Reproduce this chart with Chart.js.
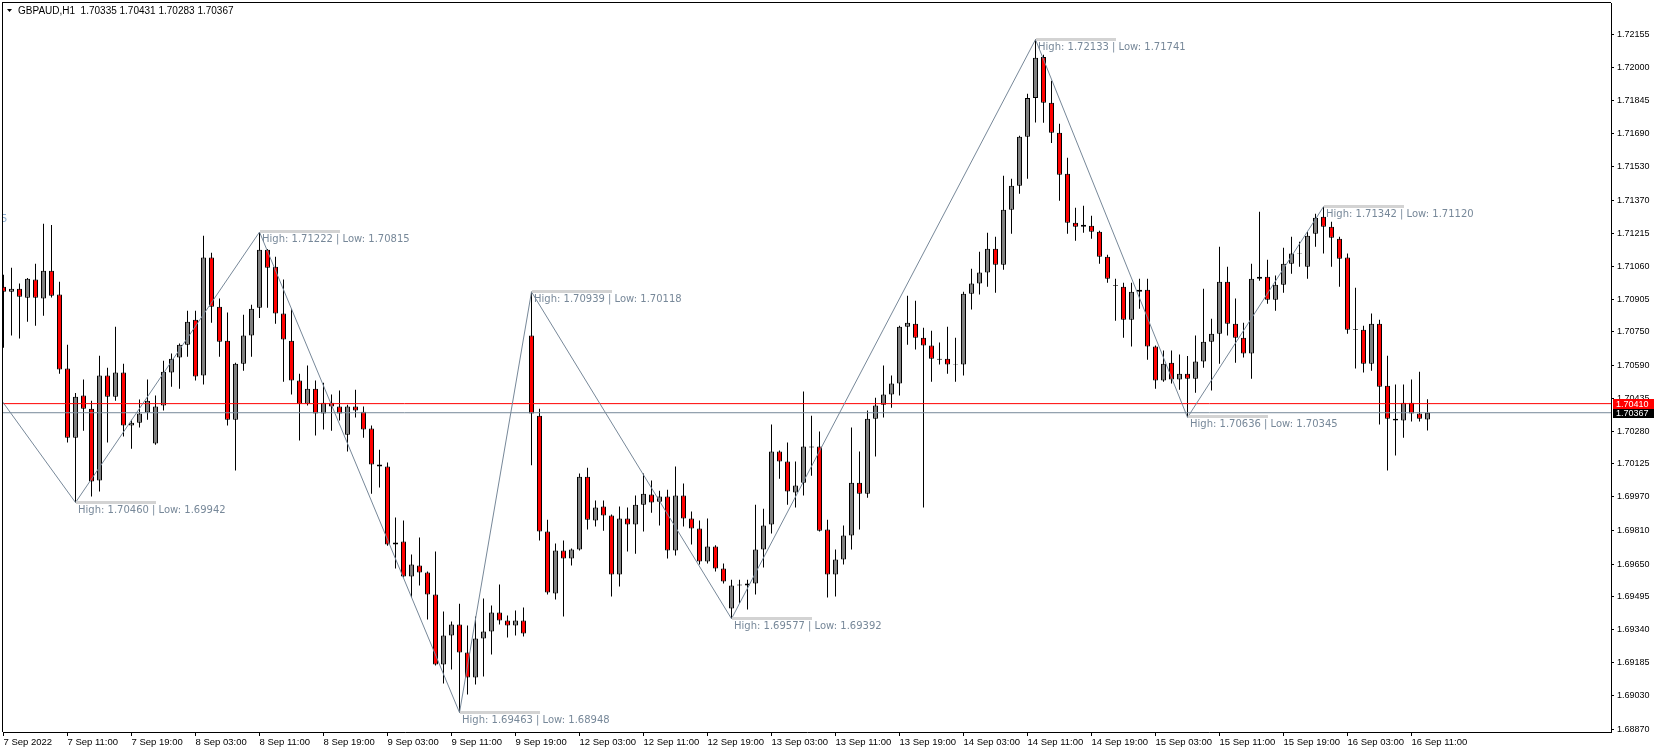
<!DOCTYPE html>
<html lang="en">
<head>
<meta charset="UTF-8">
<title>GBPAUD,H1</title>
<script src="https://cdn.jsdelivr.net/npm/chart.js@4"></script>
<style>
html,body{margin:0;padding:0;background:#fff;overflow:hidden}
#wrap{width:1657px;height:753px}
</style>
</head>
<body>
<div id="wrap"><canvas id="chart" width="1657" height="753"></canvas></div>
<script>
const headerText = 'GBPAUD,H1  1.70335 1.70431 1.70283 1.70367';

const opens = [
1.70963,1.70940,1.70954,1.70911,1.70997,1.70907,1.71039,1.70926,1.70576,1.70249,
1.70448,1.70386,1.70046,1.70543,1.70443,1.70557,1.70306,1.70320,1.70368,1.70221,
1.70401,1.70557,1.70628,1.70689,1.70807,1.70543,1.71101,1.70869,1.70708,1.70334,
1.70599,1.70732,1.70864,1.71138,1.71058,1.70836,1.70708,1.70519,1.70410,1.70481,
1.70363,1.70414,1.70396,1.70263,1.70396,1.70372,1.70292,1.70122,1.70112,1.69743,
1.69758,1.69592,1.69644,1.69611,1.69507,1.69176,1.69313,1.69365,1.69232,1.69114,
1.69299,1.69332,1.69421,1.69384,1.69360,1.69384,1.70732,1.70353,1.69805,1.69511,
1.69715,1.69677,1.69720,1.70064,1.69857,1.69923,1.69880,1.69601,1.69866,1.69838,
1.69932,1.69980,1.69946,1.69970,1.69715,1.69975,1.69866,1.69819,1.69663,1.69734,
1.69630,1.69440,1.69549,1.69549,1.69559,1.69720,1.69838,1.70183,1.70136,1.69989,
1.70036,1.70202,1.70207,1.69814,1.69601,1.69672,1.69786,1.70036,1.69984,1.70339,
1.70405,1.70453,1.70505,1.70774,1.70788,1.70722,1.70685,1.70623,1.70623,1.70595,
1.70595,1.70930,1.70978,1.71030,1.71143,1.71067,1.71328,1.71441,1.71673,1.71857,
1.72051,1.71834,1.71692,1.71498,1.71266,1.71247,1.71252,1.71224,1.71105,1.70968,
1.70963,1.70807,1.70940,1.70949,1.70680,1.70519,1.70604,1.70524,1.70552,1.70528,
1.70609,1.70703,1.70741,1.70987,1.70788,1.70722,1.70647,1.71001,1.71011,1.70902,
1.70973,1.71072,1.71120,1.71058,1.71214,1.71294,1.71247,1.71190,1.71101,1.70760,
1.70760,1.70599,1.70788,1.70495,1.70339,1.70330,1.70414,1.70363,1.70335
];
const highs = [
1.71020,1.71053,1.70978,1.71005,1.71072,1.71261,1.71255,1.70987,1.70689,1.70460,
1.70524,1.70424,1.70637,1.70580,1.70774,1.70599,1.70334,1.70429,1.70524,1.70448,
1.70613,1.70647,1.70694,1.70850,1.70850,1.71205,1.71124,1.70907,1.70841,1.70604,
1.70831,1.70878,1.71222,1.71142,1.71105,1.70997,1.70859,1.70552,1.70590,1.70519,
1.70509,1.70453,1.70472,1.70405,1.70476,1.70396,1.70306,1.70192,1.70131,1.69871,
1.69857,1.69696,1.69776,1.69616,1.69710,1.69426,1.69379,1.69463,1.69360,1.69403,
1.69488,1.69455,1.69554,1.69407,1.69431,1.69445,1.70939,1.70386,1.69861,1.69748,
1.69762,1.69725,1.70079,1.70107,1.69951,1.69951,1.69885,1.69923,1.69918,1.69975,
1.70079,1.70046,1.69998,1.70003,1.70112,1.70032,1.69899,1.69857,1.69866,1.69740,
1.69654,1.69577,1.69577,1.69577,1.69932,1.69913,1.70311,1.70188,1.70226,1.70136,
1.70467,1.70353,1.70278,1.69861,1.69720,1.69833,1.70297,1.70183,1.70377,1.70438,
1.70590,1.70543,1.70779,1.70921,1.70897,1.70769,1.70755,1.70699,1.70774,1.70722,
1.70940,1.71048,1.71129,1.71219,1.71200,1.71489,1.71474,1.71678,1.71876,1.72133,
1.72061,1.71938,1.71734,1.71574,1.71337,1.71347,1.71299,1.71228,1.71115,1.71001,
1.70982,1.70982,1.71001,1.71001,1.70685,1.70661,1.70661,1.70642,1.70636,1.70732,
1.70954,1.70812,1.71152,1.71058,1.70907,1.70793,1.71072,1.71318,1.71091,1.71016,
1.71148,1.71200,1.71176,1.71224,1.71309,1.71342,1.71271,1.71200,1.71120,1.70959,
1.70779,1.70836,1.70807,1.70637,1.70500,1.70500,1.70524,1.70561,1.70431
];
const lows = [
1.70675,1.70732,1.70718,1.70798,1.70779,1.70826,1.70912,1.70552,1.70226,1.69942,
1.70282,1.69970,1.69994,1.70226,1.70424,1.70254,1.70197,1.70297,1.70334,1.70216,
1.70377,1.70490,1.70481,1.70632,1.70519,1.70500,1.70793,1.70632,1.70306,1.70093,
1.70566,1.70632,1.70815,1.70864,1.70788,1.70514,1.70453,1.70235,1.70401,1.70259,
1.70287,1.70282,1.70330,1.70183,1.70344,1.70249,1.69984,1.70013,1.69738,1.69630,
1.69587,1.69492,1.69549,1.69388,1.69171,1.69086,1.69152,1.68948,1.69034,1.69081,
1.69119,1.69223,1.69365,1.69303,1.69313,1.69308,1.70118,1.69762,1.69507,1.69483,
1.69403,1.69644,1.69715,1.69814,1.69828,1.69809,1.69497,1.69544,1.69710,1.69700,
1.69805,1.69894,1.69833,1.69677,1.69691,1.69828,1.69743,1.69649,1.69654,1.69616,
1.69559,1.69392,1.69464,1.69436,1.69507,1.69635,1.69795,1.70055,1.69932,1.69918,
1.69975,1.70069,1.69805,1.69492,1.69497,1.69649,1.69720,1.69814,1.69965,1.70160,
1.70344,1.70391,1.70448,1.70689,1.70666,1.69918,1.70514,1.70595,1.70552,1.70514,
1.70543,1.70855,1.70926,1.70963,1.70935,1.71044,1.71214,1.71403,1.71474,1.71741,
1.71739,1.71644,1.71370,1.71214,1.71181,1.71219,1.71190,1.71072,1.70982,1.70802,
1.70722,1.70680,1.70859,1.70618,1.70481,1.70514,1.70505,1.70476,1.70345,1.70462,
1.70580,1.70472,1.70599,1.70732,1.70604,1.70628,1.70528,1.70992,1.70883,1.70850,
1.70935,1.71025,1.71058,1.71001,1.71152,1.71120,1.71058,1.70963,1.70741,1.70576,
1.70557,1.70566,1.70311,1.70093,1.70164,1.70249,1.70325,1.70325,1.70283
];
const closes = [
1.70940,1.70954,1.70916,1.71001,1.70911,1.71039,1.70921,1.70571,1.70249,1.70443,
1.70386,1.70041,1.70543,1.70443,1.70557,1.70306,1.70320,1.70363,1.70424,1.70396,
1.70561,1.70623,1.70689,1.70798,1.70538,1.71101,1.70869,1.70703,1.70334,1.70599,
1.70732,1.70859,1.71138,1.71053,1.70836,1.70713,1.70519,1.70410,1.70481,1.70363,
1.70414,1.70396,1.70363,1.70396,1.70377,1.70287,1.70122,1.70112,1.69743,1.69753,
1.69592,1.69649,1.69611,1.69507,1.69176,1.69313,1.69365,1.69232,1.69114,1.69299,
1.69332,1.69421,1.69384,1.69360,1.69384,1.69322,1.70363,1.69805,1.69516,1.69715,
1.69677,1.69720,1.70064,1.69861,1.69918,1.69880,1.69601,1.69866,1.69838,1.69932,
1.69984,1.69942,1.69970,1.69715,1.69975,1.69866,1.69819,1.69663,1.69734,1.69630,
1.69568,1.69549,1.69554,1.69559,1.69720,1.69833,1.70183,1.70136,1.69994,1.70022,
1.70207,1.70207,1.69809,1.69601,1.69672,1.69786,1.70036,1.69984,1.70339,1.70401,
1.70453,1.70505,1.70774,1.70793,1.70722,1.70685,1.70623,1.70618,1.70595,1.70598,
1.70930,1.70978,1.71030,1.71143,1.71067,1.71328,1.71441,1.71673,1.71857,1.72047,
1.71834,1.71692,1.71493,1.71266,1.71247,1.71257,1.71224,1.71105,1.71001,1.70971,
1.70807,1.70940,1.70949,1.70680,1.70519,1.70599,1.70524,1.70552,1.70528,1.70609,
1.70703,1.70741,1.70987,1.70788,1.70722,1.70647,1.71001,1.71011,1.70902,1.70973,
1.71072,1.71120,1.71123,1.71205,1.71290,1.71247,1.71195,1.71096,1.70760,1.70763,
1.70599,1.70788,1.70490,1.70339,1.70330,1.70414,1.70363,1.70339,1.70367
];

const timeLabels = ['7 Sep 2022','7 Sep 11:00','7 Sep 19:00','8 Sep 03:00','8 Sep 11:00','8 Sep 19:00',
  '9 Sep 03:00','9 Sep 11:00','9 Sep 19:00','12 Sep 03:00','12 Sep 11:00','12 Sep 19:00',
  '13 Sep 03:00','13 Sep 11:00','13 Sep 19:00','14 Sep 03:00','14 Sep 11:00','14 Sep 19:00',
  '15 Sep 03:00','15 Sep 11:00','15 Sep 19:00','16 Sep 03:00','16 Sep 11:00'];
const priceTicks = [1.72155,1.72000,1.71845,1.71690,1.71530,1.71370,1.71215,1.71060,1.70905,1.70750,
  1.70590,1.70435,1.70280,1.70125,1.69970,1.69810,1.69650,1.69495,1.69340,1.69185,1.69030,1.68870];

// zigzag pivots (first point is the off-screen leg coming in from the left)
const zigzagBars = [-1, 9, 32, 57, 66, 91, 129, 148, 165];
const zigzagPrices = [1.70465, 1.69942, 1.71222, 1.68948, 1.70939, 1.69392, 1.72133, 1.70345, 1.71342];
const pivotHighs = [null, 1.70460, 1.71222, 1.69463, 1.70939, 1.69577, 1.72133, 1.70636, 1.71342];
const pivotLows = [null, 1.69942, 1.70815, 1.68948, 1.70118, 1.69392, 1.71741, 1.70345, 1.71120];

const askPrice = 1.70410;
const bidPrice = 1.70367;

const bodies = opens.map((o, i) => ({x: i, y: [o, closes[i]]}));
const wicks = lows.map((l, i) => ({x: i, y: [l, highs[i]]}));
const bodyColors = opens.map((o, i) => closes[i] >= o ? '#808080' : '#ff0000');
const zigzag = zigzagBars.map((b, k) => ({x: b, y: zigzagPrices[k]}));

const overlay = {
  id: 'overlay',
  beforeDraw(chart) {
    const ctx = chart.ctx;
    ctx.save();
    ctx.fillStyle = '#fff';
    ctx.fillRect(0, 0, chart.width, chart.height);
    ctx.restore();
  },
  afterDatasetsDraw(chart) {
    const {ctx, chartArea: a, scales: {x, y}} = chart;
    ctx.save();
    ctx.beginPath();
    ctx.rect(a.left, a.top, a.right - a.left, a.bottom - a.top);
    ctx.clip();
    ctx.font = '10px "DejaVu Sans"';
    ctx.textBaseline = 'top';
    zigzagBars.forEach((b, k) => {
      if (pivotHighs[k] == null) return;
      const px = Math.round(x.getPixelForValue(b));
      const py = Math.round(y.getPixelForValue(zigzagPrices[k]));
      ctx.fillStyle = '#d3d3d3';
      ctx.fillRect(px, py - 2, 80, 3);
      ctx.fillStyle = '#778899';
      ctx.fillText('High: ' + pivotHighs[k].toFixed(5) + ' | Low: ' + pivotLows[k].toFixed(5), px + 2, py + 2);
    });
    ctx.fillStyle = '#8eaed0';
    ctx.fillText('5', 1, 214);
    ctx.restore();
  },
  afterDraw(chart) {
    const {ctx, chartArea: a, scales: {y}} = chart;
    ctx.save();
    ctx.fillStyle = '#000';
    ctx.fillRect(a.left - 1, a.top - 1, 1, a.bottom - a.top + 1);
    ctx.fillRect(a.left - 1, a.top - 1, a.right - a.left + 1, 1);
    // header
    ctx.beginPath();
    ctx.moveTo(7, 9); ctx.lineTo(12, 9); ctx.lineTo(9.5, 12); ctx.closePath();
    ctx.fill();
    ctx.font = '10px "Liberation Sans"';
    ctx.textBaseline = 'alphabetic';
    ctx.fillText(headerText, 18, 14);
    // price labels on the axis
    const box = (price, bg) => {
      const py = y.getPixelForValue(price);
      ctx.fillStyle = bg;
      ctx.fillRect(a.right + 2, Math.round(py) - 5, 41, 10);
      ctx.fillStyle = '#fff';
      ctx.font = '9px "Liberation Sans"';
      ctx.textBaseline = 'middle';
      ctx.fillText(price.toFixed(5), a.right + 5, Math.round(py) + 0.5);
    };
    box(bidPrice, '#000');
    box(askPrice, '#ff0000');
    ctx.restore();
  }
};

new Chart(document.getElementById('chart'), {
  type: 'bar',
  data: {
    datasets: [
      {type: 'line', data: zigzag, borderColor: '#778899', borderWidth: 1, pointRadius: 0, tension: 0, order: 0, clip: 0},
      {type: 'line', data: [{x: -1, y: askPrice}, {x: 202, y: askPrice}], borderColor: '#ff0000', borderWidth: 1, pointRadius: 0, order: 0, clip: 0},
      {type: 'line', data: [{x: -1, y: bidPrice}, {x: 202, y: bidPrice}], borderColor: '#778899', borderWidth: 1, pointRadius: 0, order: 0, clip: 0},
      {type: 'bar', data: bodies, backgroundColor: bodyColors, borderColor: '#000', borderWidth: 1, borderSkipped: false,
        barThickness: 5, grouped: false, inflateAmount: 0, order: 1, clip: 0},
      {type: 'bar', data: wicks, backgroundColor: '#000', borderWidth: 0, barThickness: 1, grouped: false,
        inflateAmount: 0, order: 2, clip: 0}
    ]
  },
  options: {
    responsive: false,
    animation: false,
    devicePixelRatio: 1,
    events: [],
    layout: {padding: {left: 3, top: 3, right: 0, bottom: 0}},
    plugins: {legend: {display: false}, tooltip: {enabled: false}},
    scales: {
      x: {
        type: 'linear', min: -0.0625, max: 200.9375, offset: false,
        grid: {offset: false, drawOnChartArea: false, drawTicks: true, tickLength: 4, color: '#000'},
        border: {display: true, color: '#000'},
        ticks: {autoSkip: false, maxRotation: 0, minRotation: 0, align: 'start', padding: 1, color: '#000',
          font: {family: 'Liberation Sans', size: 9.5}, callback: (v, i) => timeLabels[i]},
        afterBuildTicks: s => { s.ticks = timeLabels.map((t, k) => ({value: k * 8})); },
        afterFit: s => { s.height = 21; s.paddingLeft = 0; s.paddingRight = 0; }
      },
      y: {
        type: 'linear', position: 'right', min: 1.68856, max: 1.72306,
        grid: {drawOnChartArea: false, drawTicks: true, tickLength: 3, color: '#000'},
        border: {display: true, color: '#000'},
        ticks: {padding: 3, color: '#000', font: {family: 'Liberation Sans', size: 9}, callback: v => v.toFixed(5)},
        afterBuildTicks: s => { s.ticks = priceTicks.map(v => ({value: v})); },
        afterFit: s => { s.width = 46; s.paddingTop = 0; s.paddingBottom = 0; }
      }
    }
  },
  plugins: [overlay]
});
</script>
</body>
</html>
